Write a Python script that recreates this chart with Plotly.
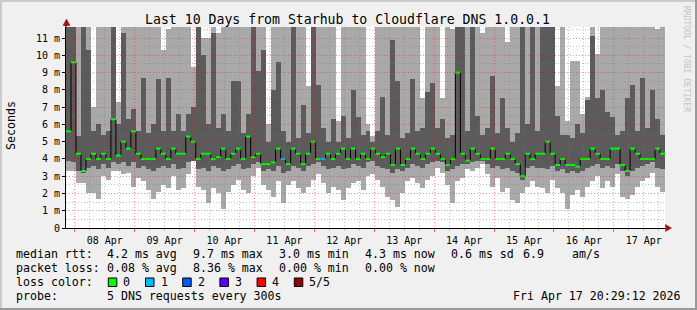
import plotly.graph_objects as go
import pandas as pd

# ---------------- data ----------------
title_text = "Last 10 Days from Starhub to Cloudflare DNS 1.0.0.1"
t_start = "2026-04-07 20:29:12"
t_end = "2026-04-17 20:29:12"
bin_hours = 2

rtt_max = [11.7, 11.7, 11.7, 11.7, 11.7, 7.0, 11.7, 11.7, 11.7, 11.7,
           7.3, 11.7, 11.7, 11.7, 11.7, 11.7, 11.7, 11.7, 11.7, 10.3,
           11.5, 11.7, 11.7, 11.7, 11.7, 9.3, 11.7, 11.0, 11.0, 11.7,
           11.3, 11.7, 11.7, 11.7, 11.7, 11.7, 11.7, 11.7, 11.7, 11.7,
           6.0, 11.7, 11.7, 11.7, 11.7, 11.7, 11.7, 11.7, 8.2, 11.7,
           11.7, 11.7, 11.7, 11.7, 6.2, 11.7, 11.7, 11.7, 11.7, 11.7,
           6.0, 5.3, 11.7, 11.7, 11.7, 11.7, 11.7, 11.7, 11.7, 11.7,
           11.7, 7.5, 11.7, 11.7, 11.7, 7.5, 11.7, 11.5, 11.7, 11.7,
           11.7, 11.7, 11.7, 11.3, 11.7, 11.7, 11.7, 11.7, 10.8, 11.7,
           11.7, 11.7, 11.7, 11.7, 11.7, 11.7, 11.7, 11.7, 8.2, 11.7,
           6.2, 9.7, 9.7, 6.6, 7.6, 11.7, 10.1, 11.7, 11.7, 11.7,
           11.7, 11.7, 11.7, 11.7, 11.7, 11.7, 11.7, 11.7, 11.5, 11.7]

rtt_hi = [11.7, 11.7, 5.3, 11.7, 10.3, 5.6, 6.0, 5.4, 5.6, 11.7,
          6.0, 11.3, 6.3, 6.9, 5.6, 8.7, 5.5, 6.0, 8.6, 5.6,
          8.7, 5.6, 6.6, 5.6, 6.6, 7.0, 11.7, 10.0, 6.0, 11.3,
          5.8, 6.6, 5.6, 8.5, 8.5, 5.5, 6.6, 11.7, 9.1, 10.3,
          5.0, 8.0, 9.6, 5.6, 5.0, 11.7, 5.2, 7.1, 5.5, 11.7,
          8.3, 5.8, 5.0, 6.3, 5.0, 6.5, 5.2, 8.0, 6.4, 5.4,
          5.6, 5.0, 5.6, 7.6, 5.4, 10.9, 8.5, 5.2, 5.5, 8.6,
          5.6, 5.8, 7.9, 8.4, 5.8, 6.3, 5.2, 5.4, 11.7, 11.7,
          5.6, 11.7, 6.5, 5.4, 5.8, 8.8, 5.5, 7.5, 5.8, 5.0,
          5.5, 11.7, 6.0, 11.7, 5.6, 11.7, 11.7, 11.7, 6.5, 5.4,
          5.4, 5.2, 6.0, 5.5, 7.4, 11.1, 7.5, 8.0, 6.7, 6.4,
          5.4, 5.6, 7.5, 8.3, 5.6, 8.7, 5.8, 8.0, 6.3, 5.4]

rtt_median = [5.6, 9.6, 4.3, 3.3, 4.0, 4.3, 4.0, 4.3, 4.0, 6.3,
              4.2, 5.0, 4.6, 5.6, 4.3, 4.0, 4.0, 4.0, 4.6, 4.3,
              4.0, 4.6, 4.3, 4.3, 5.3, 5.0, 4.0, 4.3, 4.3, 4.0,
              4.1, 4.6, 4.0, 4.3, 4.6, 4.0, 5.3, 4.1, 4.3, 3.7,
              3.7, 3.8, 4.6, 4.0, 3.7, 4.6, 4.3, 3.7, 4.3, 5.0,
              4.0, 4.0, 4.3, 4.0, 4.3, 4.6, 4.0, 4.6, 4.0, 4.3,
              4.0, 4.6, 4.3, 4.1, 4.3, 3.65, 4.6, 3.65, 4.0, 4.6,
              4.3, 4.0, 4.3, 4.6, 4.3, 4.0, 3.65, 4.0, 9.0, 4.3,
              3.9, 4.6, 4.3, 4.0, 4.0, 4.6, 4.0, 4.0, 4.3, 4.0,
              3.7, 3.0, 4.3, 4.0, 4.3, 4.3, 5.0, 4.3, 3.65, 4.0,
              3.65, 3.65, 3.55, 4.0, 4.0, 4.6, 4.3, 4.0, 4.0, 4.6,
              4.6, 3.65, 3.3, 4.6, 4.3, 4.0, 4.0, 4.0, 4.6, 4.3]

rtt_lo = [3.9, 3.8, 3.3, 3.2, 3.5, 3.6, 3.4, 3.7, 3.5, 3.8,
          3.7, 3.8, 3.6, 3.8, 3.5, 3.6, 3.4, 3.3, 3.5, 3.6,
          3.5, 3.7, 3.4, 3.5, 3.8, 3.9, 3.4, 3.5, 3.3, 3.6,
          3.5, 3.3, 3.4, 3.6, 3.7, 3.4, 3.5, 3.7, 3.8, 3.3,
          3.4, 3.3, 3.6, 3.2, 3.3, 3.6, 3.5, 3.3, 3.6, 3.7,
          3.8, 3.6, 3.4, 3.5, 3.6, 3.4, 3.5, 3.7, 3.6, 3.5,
          3.8, 3.9, 3.6, 3.5, 3.4, 3.2, 3.4, 3.3, 3.5, 3.7,
          3.6, 3.5, 3.7, 3.8, 3.9, 3.8, 3.3, 3.4, 3.6, 3.7,
          3.7, 3.8, 3.9, 3.9, 3.7, 3.5, 3.6, 3.4, 3.5, 3.3,
          3.2, 2.8, 3.5, 3.6, 3.5, 3.5, 3.4, 3.6, 3.3, 3.4,
          3.2, 3.3, 3.2, 3.3, 3.5, 3.6, 3.7, 3.5, 3.6, 3.5,
          3.7, 3.3, 3.0, 3.3, 3.5, 3.6, 3.7, 3.8, 3.5, 3.4]

rtt_min = [3.3, 3.3, 2.6, 2.6, 2.05, 2.05, 1.7, 3.0, 2.8, 3.3,
           3.3, 3.1, 3.2, 2.4, 2.9, 2.7, 2.2, 1.7, 2.1, 2.5,
           2.3, 3.0, 2.2, 2.3, 3.1, 3.9, 2.4, 2.2, 1.45, 2.3,
           2.0, 1.1, 2.1, 2.5, 2.8, 2.2, 2.0, 3.0, 3.5, 2.5,
           2.2, 1.8, 2.7, 1.45, 2.5, 2.7, 2.3, 2.0, 2.4, 2.8,
           3.1, 2.6, 2.0, 2.4, 2.2, 1.6, 2.3, 2.6, 2.7, 2.2,
           3.0, 3.1, 2.8, 2.4, 1.8, 1.6, 1.2, 2.0, 2.7, 2.9,
           2.6, 2.3, 2.8, 3.0, 3.5, 3.2, 2.5, 1.45, 2.7, 2.9,
           3.4, 3.3, 3.5, 3.7, 3.1, 2.4, 2.9, 2.1, 2.3, 1.6,
           1.45, 2.0, 2.4, 2.7, 2.4, 2.3, 2.0, 2.8, 2.3, 2.0,
           1.1, 1.9, 2.2, 1.8, 2.4, 2.7, 3.0, 2.3, 2.7, 2.4,
           3.1, 1.8, 1.7, 1.9, 2.4, 2.7, 2.9, 3.2, 2.4, 2.1]

loss_level = [0] * 120
loss_level[43] = 1
loss_level[51] = 1

y_tick_vals = list(range(12))
y_tick_text = ["0"] + [f"{v} m" for v in range(1, 12)]

legend_row1 = [("median rtt:", 16), ("4.2 ms avg", 107), ("9.7 ms max", 193),
               ("3.0 ms min", 279), ("4.3 ms now", 365), ("0.6 ms sd", 451),
               ("6.9", 523), ("am/s", 572)]
legend_row2 = [("packet loss:", 16), ("0.08 % avg", 107), ("8.36 % max", 193),
               ("0.00 % min", 279), ("0.00 % now", 365)]
loss_labels = ["0", "1", "2", "3", "4", "5/5"]
loss_colors = ["#00ff00", "#00b8ff", "#0059ff", "#5e00ff", "#ff0000", "#990000"]
probe_text = "5 DNS requests every 300s"
stamp_text = "Fri Apr 17 20:29:12 2026"
watermark = "RRDTOOL / TOBI OETIKER"

# ---------------- geometry helpers ----------------
L, R, T, B = 66, 665, 27, 228
W, H = 697, 310
Y_TOP = 11.64
FONT = "DejaVu Sans Mono"


def px(x):
    return (x - L) / (R - L)


def py(y):
    return (B - y) / (B - T)


n = len(rtt_median)
starts = pd.date_range(t_start, periods=n, freq=f"{bin_hours}h")
ends = starts + pd.Timedelta(hours=bin_hours)
centers = starts + pd.Timedelta(hours=bin_hours / 2)
bin_ms = bin_hours * 3600 * 1000
fmt = "%Y-%m-%d %H:%M:%S"
starts_s = [t.strftime(fmt) for t in starts]
ends_s = [t.strftime(fmt) for t in ends]
centers_s = [t.strftime(fmt) for t in centers]

LIGHT = "#a9a9a9"
DARK = "#5b5b5b"

fig = go.Figure()
fig.add_trace(go.Bar(x=centers_s, y=[a - b for a, b in zip(rtt_max, rtt_min)], base=rtt_min,
                     width=bin_ms, marker=dict(color=LIGHT, line=dict(width=0)),
                     showlegend=False, hoverinfo="skip"))
fig.add_trace(go.Bar(x=centers_s, y=[a - b for a, b in zip(rtt_hi, rtt_lo)], base=rtt_lo,
                     width=bin_ms, marker=dict(color=DARK, line=dict(width=0)),
                     showlegend=False, hoverinfo="skip"))

# black step line of the median
mx, my = [], []
for s, e, m in zip(starts_s, ends_s, rtt_median):
    mx += [s, e]
    my += [m, m]
fig.add_trace(go.Scatter(x=mx, y=my, mode="lines", line=dict(color="black", width=1),
                         showlegend=False, hoverinfo="skip"))

# coloured median segments by loss level
for lvl, col in enumerate(loss_colors):
    sx, sy = [], []
    for s, e, m, l in zip(starts_s, ends_s, rtt_median, loss_level):
        if l == lvl:
            sx += [s, e, None]
            sy += [m, m, None]
    if sx:
        fig.add_trace(go.Scatter(x=sx, y=sy, mode="lines", line=dict(color=col, width=2),
                                 showlegend=False, hoverinfo="skip"))

# empty trace for the overlay grid subplot
fig.add_trace(go.Scatter(x=[t_start], y=[None], xaxis="x2", yaxis="y2", mode="markers",
                         showlegend=False, hoverinfo="skip"))

day0 = "2026-04-08 00:00:00"
fig.update_layout(
    width=W, height=H,
    margin=dict(l=L, r=W - R, t=T, b=H - B, pad=0),
    paper_bgcolor="#f0f0f0", plot_bgcolor="rgba(0,0,0,0)",
    barmode="overlay", bargap=0,
    showlegend=False,
    font=dict(family=FONT, size=10, color="black"),
    xaxis=dict(type="date", range=[t_start, t_end], domain=[0, 1], anchor="y",
               showgrid=False, zeroline=False, showline=True, linecolor="black", linewidth=1,
               tickformat="%d %b", dtick=86400000, tick0=day0, ticklabelmode="period",
               ticks="outside", ticklen=3, tickcolor="#ff6060",
               tickfont=dict(family=FONT, size=10),
               minor=dict(dtick=21600000, tick0=day0, ticks="outside", ticklen=2,
                          tickcolor="#c0c0c0", showgrid=False)),
    yaxis=dict(range=[0, Y_TOP], domain=[0, 1], anchor="x",
               tickvals=y_tick_vals, ticktext=y_tick_text,
               showgrid=False, zeroline=False, showline=True, linecolor="black", linewidth=1,
               ticks="outside", ticklen=3, tickcolor="black",
               tickfont=dict(family=FONT, size=10)),
    xaxis2=dict(type="date", range=[t_start, t_end], domain=[0, 1], anchor="y2",
                showticklabels=False, ticks="", showline=False, zeroline=False,
                showgrid=True, gridcolor="rgba(255,0,0,0.42)", griddash="1px,2px", gridwidth=1,
                dtick=86400000, tick0=day0,
                minor=dict(dtick=21600000, tick0=day0, showgrid=True,
                           gridcolor="rgba(120,120,120,0.45)", griddash="1px,2px", gridwidth=1)),
    yaxis2=dict(range=[0, Y_TOP], domain=[0, 1], anchor="x2",
                showticklabels=False, ticks="", showline=False, zeroline=False,
                tickmode="array", tickvals=list(range(1, 12)),
                showgrid=True, gridcolor="rgba(255,0,0,0.42)", griddash="1px,2px", gridwidth=1,
                minor=dict(tickmode="array", tickvals=[v + 0.5 for v in range(12)], showgrid=True,
                           gridcolor="rgba(120,120,120,0.45)", griddash="1px,2px", gridwidth=1)),
)

ann = []


def text(t, x, y, xanchor="left", size=11.6, color="black", angle=0):
    ann.append(dict(text=t, x=px(x), y=py(y), xref="paper", yref="paper", showarrow=False,
                    xanchor=xanchor, yanchor="middle", textangle=angle,
                    font=dict(family=FONT, size=size, color=color),
                    borderpad=0, borderwidth=0))


text(title_text, 347.5, 19.5, xanchor="center", size=13.2)
text("Seconds", 11, 126, xanchor="center", size=11.6, angle=-90)
text(watermark, 687, 59, xanchor="center", size=8, color="#c4c4c4", angle=90)

for t, x in legend_row1:
    text(t, x, 254.3)
for t, x in legend_row2:
    text(t, x, 268.3)
text("loss color:", 16, 282.3)
for k, lab in enumerate(loss_labels):
    text(lab, 123.3 + 37.2 * k, 282.3)
text("probe:", 16, 296)
text(probe_text, 107, 296)
text(stamp_text, 681, 296, xanchor="right")

shapes = []
# white canvas under everything
shapes.append(dict(type="rect", xref="paper", yref="paper", x0=0, x1=1, y0=0, y1=1,
                   fillcolor="white", line=dict(width=0), layer="below"))
for k, col in enumerate(loss_colors):
    x0 = 108.3 + 37.2 * k
    shapes.append(dict(type="rect", xref="paper", yref="paper",
                       x0=px(x0), x1=px(x0 + 8.5), y0=py(278), y1=py(286.5),
                       fillcolor=col, line=dict(color="black", width=1)))

# axis arrows
ARROW = "#a01010"
shapes.append(dict(type="path", xref="paper", yref="paper",
                   path=f"M {px(66.5)},{py(19)} L {px(63)},{py(25.5)} L {px(70)},{py(25.5)} Z",
                   fillcolor=ARROW, line=dict(color=ARROW, width=0.5)))
shapes.append(dict(type="line", xref="paper", yref="paper",
                   x0=px(66), x1=px(66), y0=py(27), y1=py(25), line=dict(color="black", width=1)))
shapes.append(dict(type="path", xref="paper", yref="paper",
                   path=f"M {px(671.5)},{py(228)} L {px(665.5)},{py(224.5)} L {px(665.5)},{py(231.5)} Z",
                   fillcolor=ARROW, line=dict(color=ARROW, width=0.5)))

# image frame (rrdtool shade)
shapes.append(dict(type="line", xref="paper", yref="paper", x0=px(0), x1=px(W),
                   y0=py(1), y1=py(1), line=dict(color="#cbcbcb", width=2)))
shapes.append(dict(type="line", xref="paper", yref="paper", x0=px(1), x1=px(1),
                   y0=py(0), y1=py(H), line=dict(color="#cbcbcb", width=2)))
shapes.append(dict(type="line", xref="paper", yref="paper", x0=px(0), x1=px(W),
                   y0=py(H - 1), y1=py(H - 1), line=dict(color="#999999", width=2)))
shapes.append(dict(type="line", xref="paper", yref="paper", x0=px(W - 1), x1=px(W - 1),
                   y0=py(0), y1=py(H), line=dict(color="#999999", width=2)))

fig.update_layout(annotations=ann, shapes=shapes)

fig.write_html("out.html", config={"displayModeBar": False})
